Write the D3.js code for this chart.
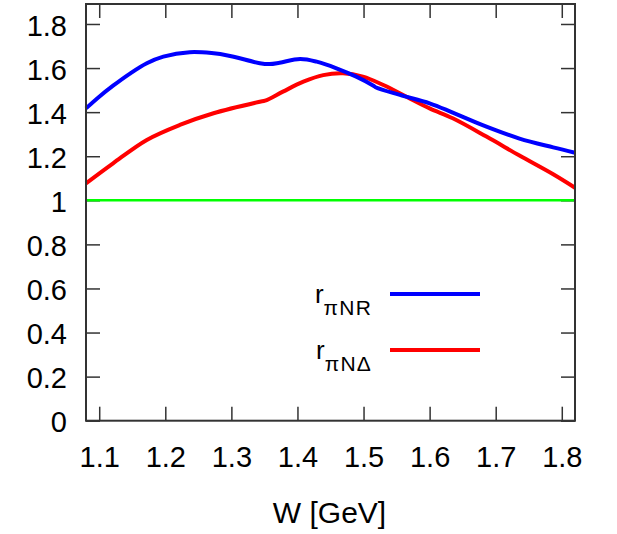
<!DOCTYPE html>
<html>
<head>
<meta charset="utf-8">
<script src="https://cdn.jsdelivr.net/npm/d3@7"></script>
<style>
  body { margin: 0; background: #fff; }
  svg text { font-family: "Liberation Sans", Arial, sans-serif; fill: #000; }
</style>
</head>
<body>
<svg id="chart" width="617" height="534"></svg>
<script>
// W [GeV] and ratio values
const nrW = [1.08, 1.10, 1.121, 1.146, 1.172, 1.197, 1.237, 1.27, 1.298, 1.343, 1.358, 1.373, 1.404, 1.429, 1.459, 1.489, 1.515, 1.519, 1.555, 1.600, 1.635, 1.686, 1.736, 1.787, 1.82];
const nrR = [1.417, 1.470, 1.520, 1.574, 1.622, 1.652, 1.672, 1.668, 1.655, 1.622, 1.618, 1.624, 1.641, 1.629, 1.599, 1.561, 1.520, 1.512, 1.478, 1.440, 1.398, 1.334, 1.280, 1.240, 1.216];

const ndW = [1.08, 1.121, 1.172, 1.222, 1.273, 1.343, 1.351, 1.378, 1.409, 1.439, 1.469, 1.499, 1.530, 1.565, 1.600, 1.635, 1.686, 1.736, 1.787, 1.82];
const ndR = [1.077, 1.168, 1.274, 1.342, 1.395, 1.447, 1.452, 1.493, 1.538, 1.568, 1.576, 1.561, 1.523, 1.470, 1.417, 1.372, 1.289, 1.203, 1.118, 1.057];

const xTicks = [1.1, 1.2, 1.3, 1.4, 1.5, 1.6, 1.7, 1.8];
const yTicks = [0, 0.2, 0.4, 0.6, 0.8, 1, 1.2, 1.4, 1.6, 1.8];
const refLevel = 1;

const size = { left: 86, right: 575, top: 4, bottom: 420.7 };
const tickLen = 14;

const svg = d3.select('#chart');

const xScale = d3.scaleLinear().domain([1.08, 1.82]).range([size.left, size.right]);
const yScale = d3.scaleLinear().domain([0, 1.8]).range([size.bottom, size.bottom - 1.8 * 220.4]);
yScale.domain([0, yScale.invert(size.top)]).range([size.bottom, size.top]);

const fmtY = (d) => d === 0 ? '0' : (d === 1 ? '1' : d3.format('.1f')(d));

// axes: labels on bottom/left, inward ticks mirrored on top/right
const bottomAxis = d3.axisBottom(xScale).tickValues(xTicks).tickSize(-tickLen).tickPadding(26).tickFormat(d3.format('.1f'));
const topAxis = d3.axisTop(xScale).tickValues(xTicks).tickSize(-tickLen).tickFormat('');
const leftAxis = d3.axisLeft(yScale).tickValues(yTicks).tickSize(-tickLen).tickPadding(19).tickFormat(fmtY);
const rightAxis = d3.axisRight(yScale).tickValues(yTicks).tickSize(-tickLen).tickFormat('');

function styleAxis(g) {
  g.select('.domain').remove();
  g.selectAll('.tick line').attr('stroke', '#333').attr('stroke-width', 1.5);
  g.selectAll('.tick text').attr('font-size', 29).attr('fill', '#000')
    .attr('font-family', '"Liberation Sans", Arial, sans-serif');
}

svg.append('g').attr('transform', `translate(0,${size.bottom})`).call(bottomAxis).call(styleAxis)
  .selectAll('.tick text').attr('dy', '0.71em');
svg.append('g').attr('transform', `translate(0,${size.top})`).call(topAxis).call(styleAxis);
svg.append('g').attr('transform', `translate(${size.left},0)`).call(leftAxis).call(styleAxis)
  .selectAll('.tick text').attr('dy', '0.38em');
svg.append('g').attr('transform', `translate(${size.right},0)`).call(rightAxis).call(styleAxis);

// reference line at 1
svg.append('line')
  .attr('x1', size.left).attr('x2', size.right)
  .attr('y1', yScale(refLevel)).attr('y2', yScale(refLevel))
  .attr('stroke', '#00ff00').attr('stroke-width', 2.5);

const line = d3.line()
  .x((d) => xScale(d[0]))
  .y((d) => yScale(d[1]))
  .curve(d3.curveCatmullRom.alpha(0.5));

svg.append('path')
  .datum(ndW.map((w, i) => [w, ndR[i]]))
  .attr('d', line).attr('fill', 'none')
  .attr('stroke', '#ff0000').attr('stroke-width', 4);

svg.append('path')
  .datum(nrW.map((w, i) => [w, nrR[i]]))
  .attr('d', line).attr('fill', 'none')
  .attr('stroke', '#0000ff').attr('stroke-width', 4);

// frame
svg.append('rect')
  .attr('x', size.left).attr('y', size.top)
  .attr('width', size.right - size.left).attr('height', size.bottom - size.top)
  .attr('fill', 'none').attr('stroke', '#333').attr('stroke-width', 2);

// legend
const legendItems = [
  { sub: 'πNR', color: '#0000ff', y: 294 },
  { sub: 'πNΔ', color: '#ff0000', y: 350 }
];
const legend = svg.append('g').attr('class', 'g-legend');
legendItems.forEach((item) => {
  const t = legend.append('text')
    .attr('x', 372).attr('y', item.y + 9)
    .attr('text-anchor', 'end').attr('font-size', 26);
  t.append('tspan').text('r');
  t.append('tspan').attr('font-size', 21).attr('letter-spacing', 1.2).attr('dy', 11.7).text(item.sub);
  legend.append('line')
    .attr('x1', 390).attr('x2', 480)
    .attr('y1', item.y).attr('y2', item.y)
    .attr('stroke', item.color).attr('stroke-width', 4);
});

// x axis title
svg.append('text')
  .attr('x', (size.left + size.right) / 2 - 1).attr('y', 523)
  .attr('text-anchor', 'middle').attr('font-size', 30)
  .text('W [GeV]');
</script>
</body>
</html>
